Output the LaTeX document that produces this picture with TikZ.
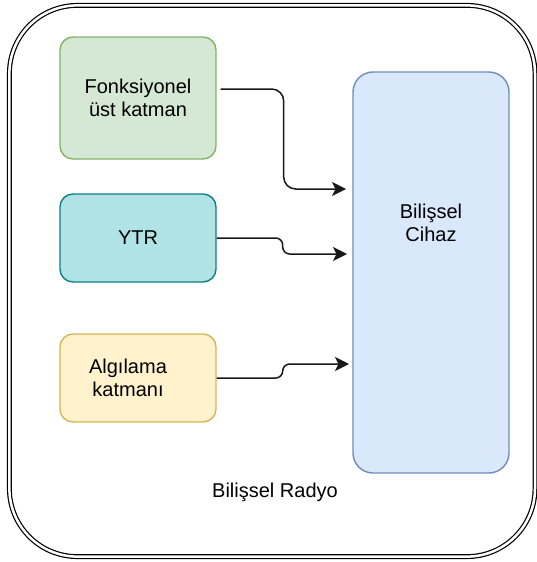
\documentclass[tikz,border=0pt]{standalone}
\usepackage{fontspec}
\setmainfont{Liberation Sans}
\usepackage{xcolor}
\definecolor{fonkFill}{HTML}{D5E8D4}
\definecolor{fonkLine}{HTML}{82B366}
\definecolor{ytrFill}{HTML}{B0E3E6}
\definecolor{ytrLine}{HTML}{0E8088}
\definecolor{algFill}{HTML}{FFF2CC}
\definecolor{algLine}{HTML}{D6B656}
\definecolor{cihazFill}{HTML}{DAE8FC}
\definecolor{cihazLine}{HTML}{6C8EBF}
\usetikzlibrary{arrows.meta}

\begin{document}
\begin{tikzpicture}[
		x=1pt, y=-1pt,
		every node/.style={font=\fontsize{20}{23}\selectfont},
		layer/.style={draw, rounded corners=13pt, line width=1.4pt,
		              minimum width=156pt, minimum height=88pt, align=center},
		txt/.style={inner sep=0pt, align=center},
		link/.style={-{Stealth[length=14pt, width=14pt, inset=3.5pt]},
		             line width=1.5pt, black!90}
	]
		\useasboundingbox (0,0) rectangle (536,562);
		% outer frame
		\draw[line width=1.2pt, double, double distance=2.5pt, rounded corners=68pt]
		     (9.4,5.4) rectangle (535,556.6);
		\node[txt] (radyo) at (275,492) {Bilişsel Radyo};

		\node[layer, fill=fonkFill, draw=fonkLine, minimum height=122pt]
		     (fonk) at (138,98) {Fonksiyonel\\üst katman};
		\node[layer, fill=ytrFill, draw=ytrLine]
		     (ytr) at (138,238) {YTR};
		\node[layer, fill=algFill, draw=algLine,
		      label={[txt, xshift=-10pt]center:{Algılama\\katmanı}}]
		     (alg) at (138,378) {};
		\node[layer, fill=cihazFill, draw=cihazLine, rounded corners=20pt,
		      minimum height=401pt,
		      label={[txt, yshift=50pt]center:{Bilişsel\\Cihaz}}]
		     (cihaz) at (431,272.5) {};

		\coordinate (in1) at (346,189);
		\coordinate (in2) at (347,254);
		\coordinate (in3) at (349,364);
		\draw[link, rounded corners=12pt] ([xshift=4pt, yshift=9pt]fonk.east)
		     -- ++(63,0) |- (in1);
		\draw[link, rounded corners=7pt] (ytr.east) -- ++(66,0) |- (in2);
		\draw[link, rounded corners=7pt] (alg.east) -- ++(66,0) |- (in3);
	\end{tikzpicture}
\end{document}
